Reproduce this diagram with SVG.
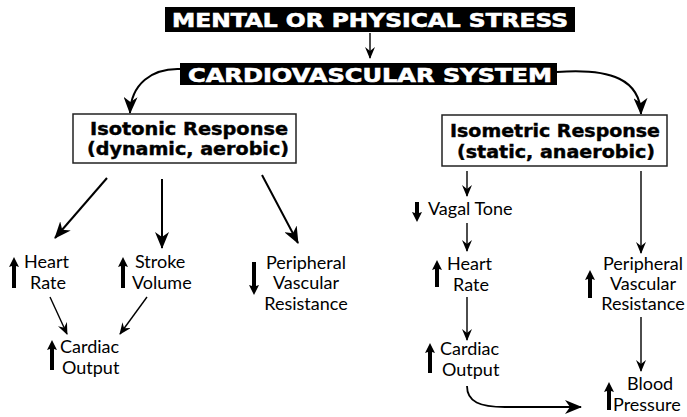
<svg xmlns="http://www.w3.org/2000/svg" width="687" height="417" viewBox="0 0 687 417">
<style>
.bg{fill:#fff}
.hdr{fill:#000}
.hdrt{fill:#fff;stroke:#fff;stroke-width:0.6;font-family:"DejaVu Sans",sans-serif;font-weight:bold;font-size:19px}
.box{fill:#fff;stroke:#222;stroke-width:1.5}
.boxt{fill:#000;stroke:#000;stroke-width:0.4;font-family:"DejaVu Sans",sans-serif;font-weight:bold;font-size:17px}
.lbl{fill:#000;font-family:Lato,"Open Sans",sans-serif;font-size:18px}
.mid{text-anchor:middle}
.ind{fill:#000}
.big{fill:none;stroke:#000;stroke-width:2;marker-end:url(#hb)}
.sm{fill:none;stroke:#000;stroke-width:1.4;marker-end:url(#hs)}
</style>
<defs>
<marker id="hb" viewBox="0 -7 17 14" refX="16" refY="0" markerWidth="17" markerHeight="14" markerUnits="userSpaceOnUse" orient="auto">
<path d="M0,-7 L17,0 L0,7 L5,0 Z" fill="#000"/>
</marker>
<marker id="hs" viewBox="0 -5 12 10" refX="11" refY="0" markerWidth="12" markerHeight="10" markerUnits="userSpaceOnUse" orient="auto">
<path d="M0,-5 L12,0 L0,5 L4,0 Z" fill="#000"/>
</marker>
</defs>
<rect class="bg" width="687" height="417"/>

<g id="connectors">
<path class="sm" d="M370,33 L370,58"/>
<path class="big" d="M180,69 C152,68 131,84 130,113"/>
<path class="big" d="M557,72 C612,68 640,80 641,114"/>
<path class="big" d="M107,178 L55,238"/>
<path class="big" d="M162,179 L162,248"/>
<path class="big" d="M262,175 L298,243"/>
<path class="sm" d="M50,297 L67,334"/>
<path class="sm" d="M147,297 L120,334"/>
<path class="sm" d="M467,171 L467,196"/>
<path class="sm" d="M467,223 L467,251"/>
<path class="sm" d="M467,297 L467,340"/>
<path class="sm" d="M641,171 L641,253"/>
<path class="sm" d="M641,317 L641,371"/>
<path class="big" style="stroke-width:1.8" d="M467,386 C467,402 480,407 505,407 L581,407"/>
</g>

<g id="stress">
<rect class="hdr" x="165" y="7" width="410" height="25"/>
<text class="hdrt" x="172" y="27" textLength="396" lengthAdjust="spacingAndGlyphs">MENTAL OR PHYSICAL STRESS</text>
</g>
<g id="cardiovascular">
<rect class="hdr" x="180" y="63" width="377" height="22"/>
<text class="hdrt" x="188" y="82" textLength="364" lengthAdjust="spacingAndGlyphs">CARDIOVASCULAR SYSTEM</text>
</g>
<g id="isotonic">
<rect class="box" x="73" y="114" width="223" height="49"/>
<text class="boxt" x="90" y="135" textLength="198" lengthAdjust="spacingAndGlyphs">Isotonic Response</text>
<text class="boxt" x="87" y="155" textLength="202" lengthAdjust="spacingAndGlyphs">(dynamic, aerobic)</text>
</g>
<g id="isometric">
<rect class="box" x="442" y="115" width="225" height="51"/>
<text class="boxt" x="450" y="137" textLength="210" lengthAdjust="spacingAndGlyphs">Isometric Response</text>
<text class="boxt" x="457" y="158" textLength="198" lengthAdjust="spacingAndGlyphs">(static, anaerobic)</text>
</g>

<g id="iso-heart-rate">
<path class="ind" d="M14,257 L19,267 L16,266 L16,288 L12,288 L12,266 L9,267 Z"/>
<text class="lbl" x="24" y="268">Heart</text>
<text class="lbl" x="30" y="289">Rate</text>
</g>
<g id="iso-stroke-volume">
<path class="ind" d="M123,257 L128,267 L125,266 L125,288 L121,288 L121,266 L118,267 Z"/>
<text class="lbl" x="135" y="268">Stroke</text>
<text class="lbl" x="132" y="289">Volume</text>
</g>
<g id="iso-pvr">
<path class="ind" d="M254,295 L259,285 L256,286 L256,262 L252,262 L252,286 L249,285 Z"/>
<text class="lbl mid" x="306" y="269">Peripheral</text>
<text class="lbl mid" x="306" y="289">Vascular</text>
<text class="lbl mid" x="306" y="310">Resistance</text>
</g>
<g id="iso-cardiac-output">
<path class="ind" d="M52,340 L57,350 L54,349 L54,370 L50,370 L50,349 L47,350 Z"/>
<text class="lbl" x="60" y="353">Cardiac</text>
<text class="lbl" x="62" y="374">Output</text>
</g>

<g id="met-vagal">
<path class="ind" d="M417,222 L422,212 L419,213 L419,202 L415,202 L415,213 L412,212 Z"/>
<text class="lbl" x="428" y="215">Vagal Tone</text>
</g>
<g id="met-heart-rate">
<path class="ind" d="M437,260 L442,270 L439,269 L439,287 L435,287 L435,269 L432,270 Z"/>
<text class="lbl" x="447" y="270">Heart</text>
<text class="lbl" x="453" y="291">Rate</text>
</g>
<g id="met-cardiac-output">
<path class="ind" d="M430,343 L435,353 L432,352 L432,373 L428,373 L428,352 L425,353 Z"/>
<text class="lbl" x="440" y="355">Cardiac</text>
<text class="lbl" x="442" y="376">Output</text>
</g>
<g id="met-pvr">
<path class="ind" d="M590,270 L595,280 L592,279 L592,298 L588,298 L588,279 L585,280 Z"/>
<text class="lbl mid" x="643" y="270">Peripheral</text>
<text class="lbl mid" x="643" y="290">Vascular</text>
<text class="lbl mid" x="643" y="310">Resistance</text>
</g>
<g id="met-blood-pressure">
<path class="ind" d="M609,382 L614,392 L611,391 L611,410 L607,410 L607,391 L604,392 Z"/>
<text class="lbl" x="627" y="390">Blood</text>
<text class="lbl" x="613" y="411">Pressure</text>
</g>
</svg>
